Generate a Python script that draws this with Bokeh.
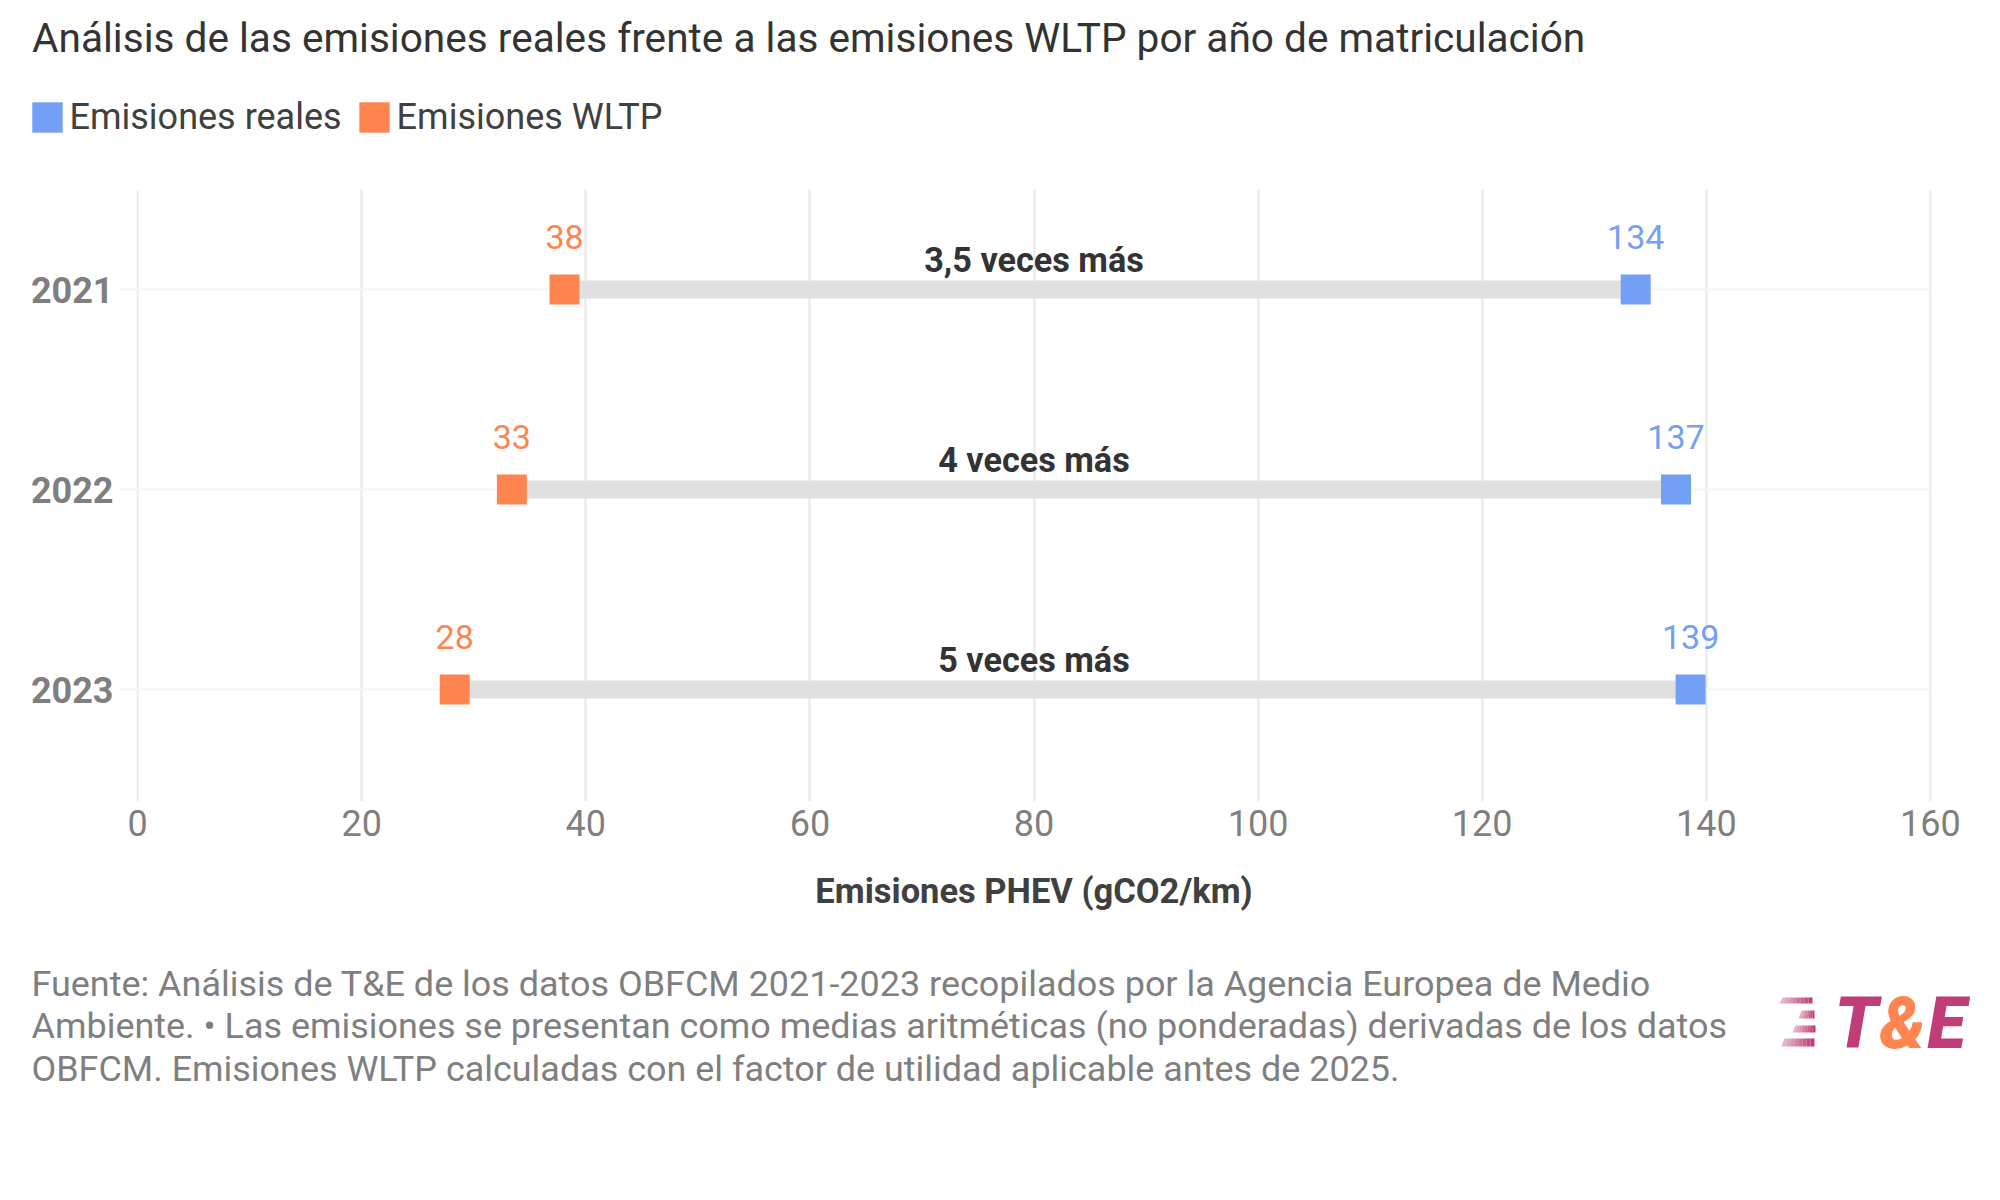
from bokeh.core.properties import value
from bokeh.embed import file_html
from bokeh.layouts import column
from bokeh.models import ColumnDataSource, FixedTicker, Label, LabelSet, Legend, LegendItem, PolyAnnotation, Range1d
from bokeh.plotting import figure
from bokeh.resources import INLINE

# Datos
years = [2021, 2022, 2023]
real_values = [133.7, 137.3, 138.6]
wltp_values = [38.1, 33.4, 28.3]
real_labels = ["134", "137", "139"]
wltp_labels = ["38", "33", "28"]
ratio_labels = ["3,5 veces más", "4 veces más", "5 veces más"]
ratio_pos = [80, 80, 80]
x_ticks = [0, 20, 40, 60, 80, 100, 120, 140, 160]

title_text = "Análisis de las emisiones reales frente a las emisiones WLTP por año de matriculación"
x_label = "Emisiones PHEV (gCO2/km)"
note_lines = [
    "Fuente: Análisis de T&E de los datos OBFCM 2021-2023 recopilados por la Agencia Europea de Medio",
    "Ambiente. • Las emisiones se presentan como medias aritméticas (no ponderadas) derivadas de los datos",
    "OBFCM. Emisiones WLTP calculadas con el factor de utilidad aplicable antes de 2025.",
]

BLUE = "#739ff4"
ORANGE = "#ff8550"
PINK = "#c03d78"
FONT = "Roboto"

W = 1984
HEAD_H, MAIN_H, FOOT_H = 170, 780, 234
LEFT, RIGHT, TOP, BOTTOM = 136, 1931, 189, 801


def blank(height):
    f = figure(width=W, height=height, output_backend="svg", toolbar_location=None,
               x_axis_type=None, y_axis_type=None, x_range=Range1d(0, W), y_range=Range1d(0, height),
               min_border=0, frame_align=False)
    f.outline_line_color = None
    return f


# Cabecera: título y leyenda
head = blank(HEAD_H)
head.add_layout(Label(x=31.5, y=HEAD_H - 37, x_units="screen", y_units="screen", text=title_text,
                      text_font=FONT, text_font_size="40.6px", text_color="#333333", text_baseline="middle"))
sw_real = head.rect(x=[float("nan")], y=[float("nan")], width=1, height=1, fill_color=BLUE, line_color=None)
sw_wltp = head.rect(x=[float("nan")], y=[float("nan")], width=1, height=1, fill_color=ORANGE, line_color=None)
legend = Legend(items=[LegendItem(label="Emisiones reales", renderers=[sw_real]),
                       LegendItem(label="Emisiones WLTP", renderers=[sw_wltp])],
                orientation="horizontal", location=(27.5, 32),
                background_fill_alpha=0, border_line_color=None,
                glyph_width=38, glyph_height=38, label_text_font=FONT,
                label_text_font_size="36px", label_text_color="#404040",
                label_standoff=4, spacing=13, padding=0, margin=0)
head.add_layout(legend)

# Gráfico principal
src = ColumnDataSource(dict(
    year=years, real=real_values, wltp=wltp_values, ratio=ratio_labels, mid=ratio_pos,
    real_txt=real_labels, wltp_txt=wltp_labels,
))

# el rango sobrepasa un poco 0 y 160: Bokeh no dibuja la rejilla en los extremos
p = figure(width=W, height=MAIN_H, output_backend="svg", toolbar_location=None,
           x_range=Range1d(-0.1, 160.1), y_range=Range1d(2023.56, 2020.5), frame_align=False,
           min_border_left=LEFT, min_border_right=W - RIGHT,
           min_border_top=TOP - HEAD_H, min_border_bottom=HEAD_H + MAIN_H - BOTTOM)
p.outline_line_color = None

p.xaxis.ticker = FixedTicker(ticks=x_ticks)
p.xaxis.axis_label = x_label
p.xaxis.axis_label_text_font = FONT
p.xaxis.axis_label_text_font_size = "34.5px"
p.xaxis.axis_label_text_font_style = "bold"
p.xaxis.axis_label_text_color = "#404040"
p.xaxis.axis_label_standoff = 32
p.xaxis.major_label_text_font = FONT
p.xaxis.major_label_text_font_size = "36px"
p.xaxis.major_label_text_color = "#7f7f7f"
p.xaxis.major_label_standoff = 2
p.xaxis.axis_line_color = None
p.xaxis.major_tick_line_color = None
p.xaxis.minor_tick_line_color = None

p.yaxis.ticker = FixedTicker(ticks=years)
p.yaxis.major_label_text_font = FONT
p.yaxis.major_label_text_font_size = "36px"
p.yaxis.major_label_text_font_style = "bold"
p.yaxis.major_label_text_color = "#7f7f7f"
p.yaxis.major_label_standoff = 7
p.yaxis.axis_line_color = None
p.yaxis.major_tick_line_color = "#f5f5f5"
p.yaxis.major_tick_line_width = 2
p.yaxis.major_tick_in = 0
p.yaxis.major_tick_out = 16
p.yaxis.minor_tick_line_color = None

p.xgrid.grid_line_color = "#ebebeb"
p.xgrid.grid_line_width = 2.5
p.ygrid.grid_line_color = "#f5f5f5"
p.ygrid.grid_line_width = 2

p.segment("wltp", "year", "real", "year", source=src, line_color="#e0e0e0", line_width=18)
p.rect("real", "year", source=src, width=30, height=30, width_units="screen",
       height_units="screen", fill_color=BLUE, line_color=None)
p.rect("wltp", "year", source=src, width=30, height=30, width_units="screen",
       height_units="screen", fill_color=ORANGE, line_color=None)

for xcol, txt, color in [("wltp", "wltp_txt", ORANGE), ("real", "real_txt", BLUE)]:
    p.add_layout(LabelSet(x=xcol, y="year", text=txt, source=src, y_offset=53,
                          text_font=value(FONT), text_font_size=value("34px"), text_color=color,
                          text_align="center", text_baseline="middle"))
p.add_layout(LabelSet(x="mid", y="year", text="ratio", source=src, y_offset=30,
                      text_font=value(FONT), text_font_size=value("34.2px"), text_font_style="bold",
                      text_color="#333333", text_align="center", text_baseline="middle"))

# Pie: notas y logo
foot = blank(FOOT_H)
total_h = HEAD_H + MAIN_H + FOOT_H
for i, line in enumerate(note_lines):
    foot.add_layout(Label(x=31, y=total_h - (983 + i * 42.6), x_units="screen", y_units="screen", text=line,
                          text_font=FONT, text_font_size="35.95px", text_color="#7f7f7f", text_baseline="middle"))

for txt, x, col in [("T", 1834, PINK), ("&", 1879, ORANGE), ("E", 1927, PINK)]:
    foot.add_layout(Label(x=x, y=total_h - 1023, x_units="screen", y_units="screen", text=txt,
                          text_font="Roboto Black", text_font_size="71px", text_font_style="italic",
                          text_color=col, text_baseline="alphabetic"))

stripes = [(1779, 1812, 997, 1003), (1798, 1814, 1010, 1018), (1792, 1815, 1025, 1032), (1781, 1814, 1038, 1046)]
steps = 8
shear = 3
for x0, x1, y0, y1 in stripes:
    for k in range(steps):
        a = x0 + (x1 - x0) * k / steps
        b = x0 + (x1 - x0) * (k + 1) / steps
        a_top = a + shear * (1 - k / steps)
        b_top = b + shear * (1 - (k + 1) / steps)
        foot.add_layout(PolyAnnotation(xs=[a_top, b_top, b, a],
                                       ys=[total_h - y0, total_h - y0, total_h - y1, total_h - y1],
                                       xs_units="screen", ys_units="screen", fill_color=PINK,
                                       fill_alpha=0.3 + 0.7 * (k + 1) / steps, line_color=None))

page = column(head, p, foot, spacing=0)
open("out.html", "w").write(file_html(page, INLINE))
